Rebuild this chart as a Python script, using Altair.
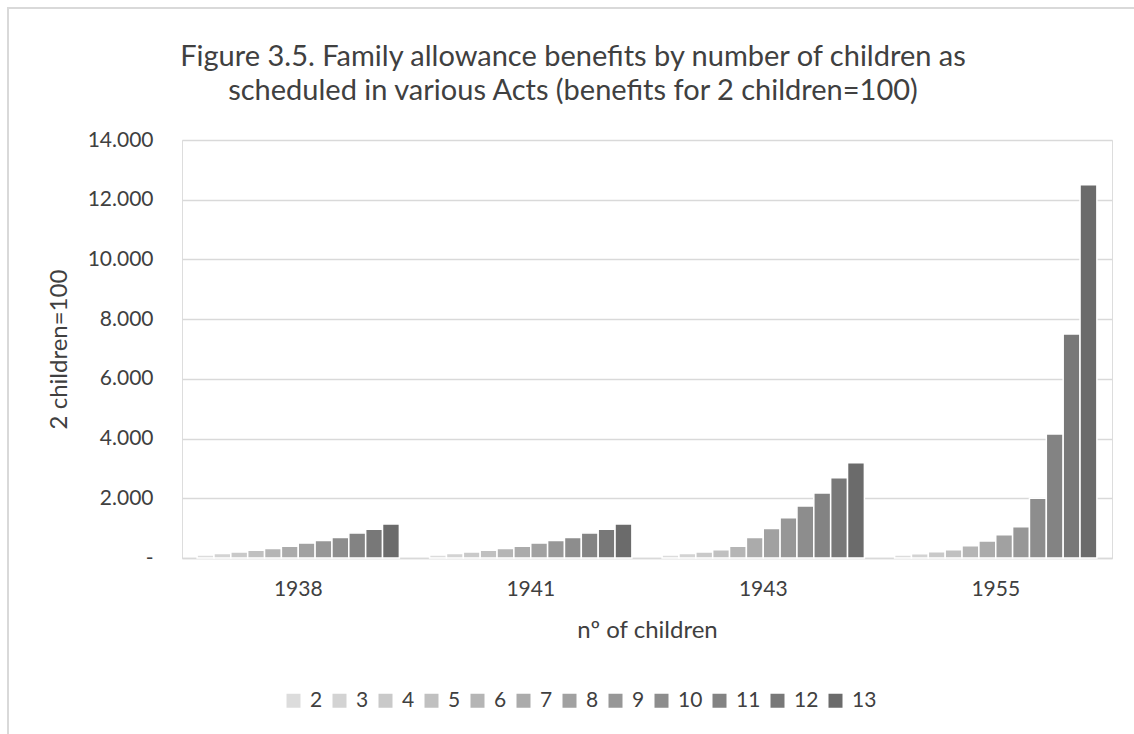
import altair as alt
import pandas as pd

# Acts (groups on the x axis) and number of children (series)
years = ["1938", "1941", "1943", "1955"]
children = ["2", "3", "4", "5", "6", "7", "8", "9", "10", "11", "12", "13"]

# Benefit index per number of children (benefits for 2 children = 100)
benefits_1938 = [100, 150, 200, 260, 320, 390, 500, 590, 690, 840, 960, 1140]
benefits_1941 = [100, 150, 200, 260, 320, 390, 500, 590, 690, 840, 960, 1140]
benefits_1943 = [100, 150, 200, 275, 390, 690, 990, 1350, 1740, 2180, 2690, 3190]
benefits_1955 = [100, 145, 210, 280, 410, 570, 780, 1050, 2000, 4150, 7500, 12500]

grays = ["#dcdcdc", "#d3d3d3", "#c9c9c9", "#c0c0c0", "#b5b5b5", "#ababab",
         "#a1a1a1", "#979797", "#8d8d8d", "#838383", "#787878", "#6b6b6b"]

rows = []
for year, series in zip(years, [benefits_1938, benefits_1941, benefits_1943, benefits_1955]):
    for n, v in zip(children, series):
        rows.append({"year": year, "children": n, "value": v})
df = pd.DataFrame(rows)

FONT = "Lato"
TEXT = "#404040"
GRID = "#d9d9d9"

W, H = 930, 418
LEFT, TOP = 182, 140

bars = alt.Chart(df).mark_bar(stroke="white", strokeWidth=1.5).encode(
    x=alt.X(
        "year:N",
        sort=years,
        scale=alt.Scale(paddingInner=0.13, paddingOuter=0.065),
        axis=alt.Axis(
            title="nº of children",
            labelAngle=0,
            labelFontSize=21,
            labelFont=FONT,
            labelColor=TEXT,
            labelPadding=31,
            labelBaseline="middle",
            ticks=False,
            domainColor=GRID,
            domainWidth=1.5,
            titleFont=FONT,
            titleFontSize=24,
            titleFontWeight="normal",
            titleColor=TEXT,
            titleBaseline="middle",
            titleY=72,
        ),
    ),
    xOffset=alt.XOffset("children:N", sort=children, scale=alt.Scale(paddingInner=0, paddingOuter=0)),
    y=alt.Y(
        "value:Q",
        scale=alt.Scale(domain=[0, 14000], nice=False),
        axis=alt.Axis(
            title="2 children=100",
            values=[0, 2000, 4000, 6000, 8000, 10000, 12000, 14000],
            labelExpr="datum.value == 0 ? '-' : replace(format(datum.value, ',.0f'), ',', '.')",
            labelFontSize=21,
            labelFont=FONT,
            labelColor=TEXT,
            labelPadding=29,
            ticks=False,
            domain=False,
            grid=True,
            gridColor=GRID,
            gridWidth=1.4,
            titleFont=FONT,
            titleFontSize=24,
            titleFontWeight="normal",
            titleColor=TEXT,
            titleAngle=-90,
            titleBaseline="middle",
            titleAlign="center",
            titleX=59 - LEFT,
            titleY=349 - TOP,
        ),
    ),
    color=alt.Color(
        "children:N",
        sort=children,
        scale=alt.Scale(domain=children, range=grays),
        legend=alt.Legend(
            title=None,
            orient="none",
            direction="horizontal",
            columns=12,
            legendX=283 - LEFT,
            legendY=690 - TOP,
            symbolType="square",
            symbolSize=196,
            symbolStrokeWidth=0,
            labelFont=FONT,
            labelFontSize=21,
            labelColor=TEXT,
            labelOffset=6,
            columnPadding=6,
        ),
    ),
)

# light frame around the whole figure
frame = alt.Chart(alt.Data(values=[{}])).mark_rect(
    fill=None, stroke=GRID, strokeWidth=2
).encode(
    x=alt.value(8 - LEFT),
    y=alt.value(8 - TOP),
    x2=alt.value(1134 - LEFT + 20),
    y2=alt.value(734 - TOP + 20),
)

chart = alt.layer(frame, bars).properties(
    width=W,
    height=H,
    autosize=alt.AutoSizeParams(type="none"),
    padding={"left": LEFT, "top": TOP, "right": 1134 - LEFT - W, "bottom": 734 - TOP - H},
    title=alt.TitleParams(
        text=["Figure 3.5. Family allowance benefits by number of children as",
              "scheduled in various Acts (benefits for 2 children=100)"],
        font=FONT,
        fontSize=29,
        fontWeight="normal",
        color=TEXT,
        anchor="middle",
        frame="group",
        dx=573 - (LEFT + W / 2),
        dy=133,
        lineHeight=34,
        offset=34,
    ),
).configure_view(stroke=None).configure(background="white")

chart.save("out.html", embed_options={"renderer": "svg", "actions": False})
